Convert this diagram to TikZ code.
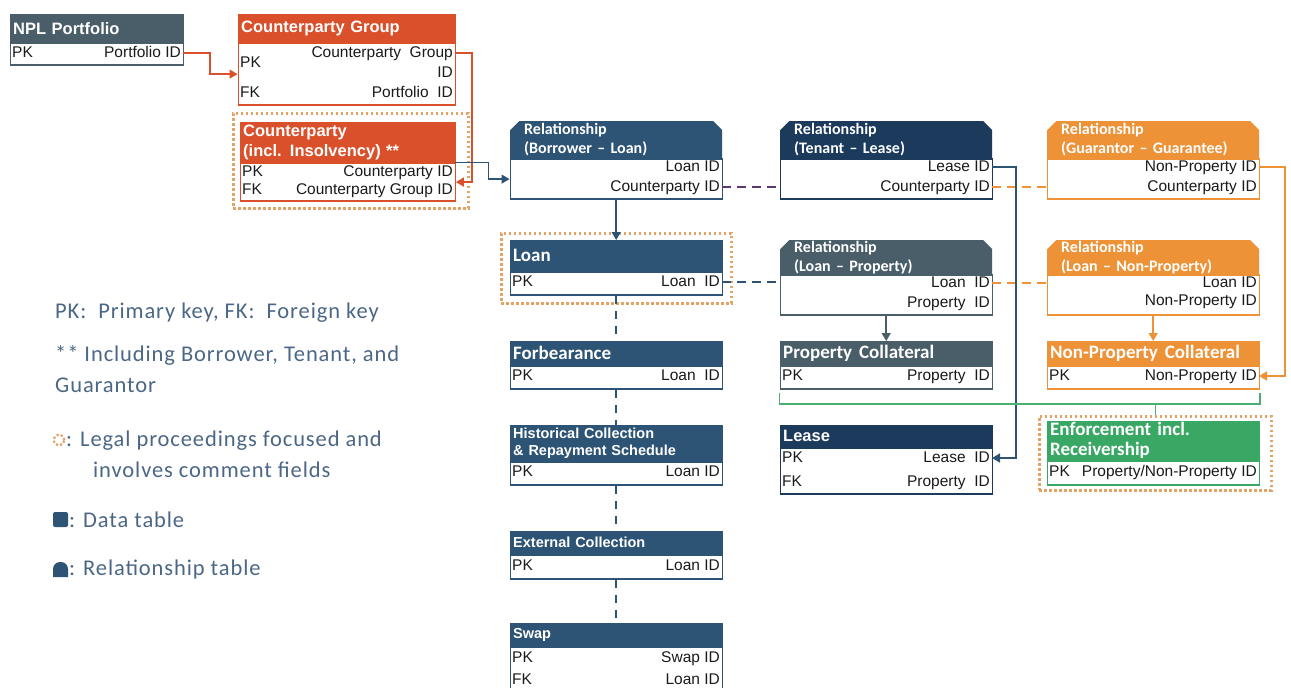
\documentclass[tikz,border=0pt]{standalone}
\usepackage{fontspec}
\setmainfont{Liberation Sans}
\newfontfamily\calib{Carlito}
\newfontfamily\calibwide[LetterSpace=4]{Carlito}
\usetikzlibrary{positioning,arrows.meta}

\definecolor{slate}{HTML}{4A5E6A}
\definecolor{cred}{HTML}{D9502B}
\definecolor{dblue}{HTML}{2D5475}
\definecolor{navy}{HTML}{1B3A5C}
\definecolor{corange}{HTML}{EE9238}
\definecolor{cgreen}{HTML}{3AA865}
\definecolor{lgreen}{HTML}{4CAF72}
\definecolor{dotorange}{HTML}{E3A266}
\definecolor{cpurple}{HTML}{5A3A6E}
\definecolor{legtext}{HTML}{4B6785}
\definecolor{rowtext}{HTML}{1A1A1A}

\newcommand\rowtxt{\fontsize{15.5}{17}\selectfont}
\newcommand\hdA{\fontsize{16.5}{20}\selectfont\bfseries}
\newcommand\hdS{\fontsize{14.5}{17}\selectfont\bfseries}
\newcommand\hdB{\calib\fontsize{19}{20}\selectfont\bfseries}
\newcommand\hdR{\calib\fontsize{16}{19}\selectfont\bfseries}

\begin{document}
\begin{tikzpicture}[x=1pt,y=-1pt,>={Triangle[length=8pt,width=9pt]},
  datahead/.style={anchor=north west,draw=#1,fill=#1,text=white,inner xsep=3pt,inner ysep=0pt,text width=206pt,align=left,font=\hdA},
  relhead/.style={anchor=north west,text=white,inner xsep=14pt,inner ysep=0pt,text width=184pt,align=left,font=\hdR,
    path picture={\fill[#1] (path picture bounding box.south west) -- ([yshift=-9pt]path picture bounding box.north west) -- ([xshift=9pt]path picture bounding box.north west) -- ([xshift=-9pt]path picture bounding box.north east) -- ([yshift=-9pt]path picture bounding box.north east) -- (path picture bounding box.south east) -- cycle;}},
  databody/.style={draw=#1,fill=white,line width=1.4pt,minimum width=212pt,inner sep=0pt},
  keytxt/.style={anchor=west,inner xsep=2pt,inner ysep=0pt,text height=11pt,text depth=3pt,font=\rowtxt,text=rowtext},
  fieldtxt/.style={anchor=east,inner xsep=2pt,inner ysep=0pt,text height=11pt,text depth=3pt,font=\rowtxt,text=rowtext},
  dotframe/.style={anchor=north west,draw=dotorange,line width=2.5pt,dash pattern=on 2.5pt off 2.5pt,inner sep=0pt},
  conn/.style={draw=#1,line width=1.5pt},
  legendtxt/.style={anchor=west,inner sep=0pt,font=\calibwide\fontsize{22.5}{26}\selectfont,text=legtext}]
\useasboundingbox (0,0) rectangle (1291,688);

% frames for legal proceedings
\node[dotframe,minimum width=235pt,minimum height=95pt] (cptyframe) at (232,112) {};
\node[dotframe,minimum width=230pt,minimum height=70pt] (loanframe) at (500,232) {};
\node[dotframe,minimum width=232pt,minimum height=74pt] (enfframe) at (1038,415) {};

% NPL Portfolio
\node[datahead=slate,text width=167pt,minimum height=28pt] (nplhead) at (10,14) {NPL Portfolio};
\node[databody=slate,minimum width=173pt,minimum height=22pt,below=0pt of nplhead] (nplbody) {};
\node[keytxt] (nplpk) at (10,53) {PK};
\node[fieldtxt] (nplpid) at (183,53) {Portfolio ID};

% Counterparty Group
\node[datahead=cred,text width=211pt,minimum height=28pt] (cpghead) at (238,14) {Counterparty Group};
\node[databody=cred,minimum width=217pt,minimum height=62pt,below=0pt of cpghead] (cpgbody) {};
\node[keytxt] (cpgpk) at (238,63) {PK};
\node[fieldtxt] (cpggid) at (455,53) {Counterparty~~Group};
\node[fieldtxt] (cpgidl) at (455,73) {ID};
\node[keytxt] (cpgfk) at (238,93) {FK};
\node[fieldtxt] (cpgpid) at (455,93) {Portfolio~~ID};

% Counterparty
\node[datahead=cred,text width=209pt,minimum height=40pt] (cptyhead) at (240,122) {Counterparty\\(incl. Insolvency) **};
\node[databody=cred,minimum width=215pt,minimum height=38pt,below=0pt of cptyhead] (cptybody) {};
\node[keytxt] (cptypk) at (240,172) {PK};
\node[fieldtxt] (cptycid) at (455,172) {Counterparty ID};
\node[keytxt] (cptyfk) at (240,190) {FK};
\node[fieldtxt] (cptygid) at (455,190) {Counterparty Group ID};

% relationship tables, first row
\node[relhead=dblue,minimum height=37pt] (relblhead) at (510,121) {Relationship\\(Borrower – Loan)};
\node[databody=dblue,minimum height=40pt,below=0pt of relblhead] (relblbody) {};
\node[fieldtxt] (relbllid) at (722,167) {Loan ID};
\node[fieldtxt] (relblcid) at (722,187) {Counterparty ID};

\node[relhead=navy,minimum height=37pt] (reltlhead) at (780,121) {Relationship\\(Tenant – Lease)};
\node[databody=navy,minimum height=40pt,below=0pt of reltlhead] (reltlbody) {};
\node[fieldtxt] (reltllid) at (992,167) {Lease ID};
\node[fieldtxt] (reltlcid) at (992,187) {Counterparty ID};

\node[relhead=corange,minimum height=37pt] (relgghead) at (1047,121) {Relationship\\(Guarantor – Guarantee)};
\node[databody=corange,minimum height=40pt,below=0pt of relgghead] (relggbody) {};
\node[fieldtxt] (relggnpid) at (1259,167) {Non-Property ID};
\node[fieldtxt] (relggcid) at (1259,187) {Counterparty ID};

% Loan and relationship tables, second row
\node[datahead=dblue,font=\hdB,minimum height=31pt] (loanhead) at (510,240) {Loan};
\node[databody=dblue,minimum height=23pt,below=0pt of loanhead] (loanbody) {};
\node[keytxt] (loanpk) at (510,282) {PK};
\node[fieldtxt] (loanid) at (722,282) {Loan~~ID};

\node[relhead=slate,minimum height=34pt] (rellphead) at (780,240) {Relationship\\(Loan – Property)};
\node[databody=slate,minimum height=40pt,below=0pt of rellphead] (rellpbody) {};
\node[fieldtxt] (rellplid) at (992,283) {Loan~~ID};
\node[fieldtxt] (rellppid) at (992,303) {Property~~ID};

\node[relhead=corange,minimum height=34pt] (rellnphead) at (1047,240) {Relationship\\(Loan – Non-Property)};
\node[databody=corange,minimum height=40pt,below=0pt of rellnphead] (rellnpbody) {};
\node[fieldtxt] (rellnplid) at (1259,283) {Loan ID};
\node[fieldtxt] (rellnpnid) at (1259,301) {Non-Property ID};

% third row
\node[datahead=dblue,font=\hdB,minimum height=24pt] (forbhead) at (510,341) {Forbearance};
\node[databody=dblue,minimum height=23pt,below=0pt of forbhead] (forbbody) {};
\node[keytxt] (forbpk) at (510,376) {PK};
\node[fieldtxt] (forbid) at (722,376) {Loan~~ID};

\node[datahead=slate,font=\hdB,minimum height=24pt] (propchead) at (780,341) {Property\hspace{7pt}Collateral};
\node[databody=slate,minimum height=23pt,below=0pt of propchead] (propcbody) {};
\node[keytxt] (propcpk) at (780,376) {PK};
\node[fieldtxt] (propcid) at (992,376) {Property~~ID};

\node[datahead=corange,font=\hdB,minimum height=24pt] (nonpchead) at (1047,341) {Non-Property\hspace{7pt}Collateral};
\node[databody=corange,minimum height=23pt,below=0pt of nonpchead] (nonpcbody) {};
\node[keytxt] (nonpcpk) at (1047,376) {PK};
\node[fieldtxt] (nonpcid) at (1259,376) {Non-Property ID};

% fourth row
\node[datahead=dblue,font=\hdS,minimum height=36pt] (histhead) at (510,425) {Historical Collection\\\& Repayment Schedule};
\node[databody=dblue,minimum height=23pt,below=0pt of histhead] (histbody) {};
\node[keytxt] (histpk) at (510,472) {PK};
\node[fieldtxt] (histid) at (722,472) {Loan ID};

\node[datahead=navy,minimum height=22pt] (leasehead) at (780,425) {Lease};
\node[databody=navy,minimum height=46pt,below=0pt of leasehead] (leasebody) {};
\node[keytxt] (leasepk) at (780,458) {PK};
\node[fieldtxt] (leaselid) at (992,458) {Lease~~ID};
\node[keytxt] (leasefk) at (780,482) {FK};
\node[fieldtxt] (leasepid) at (992,482) {Property~~ID};

\node[datahead=cgreen,font=\hdB,minimum height=39pt] (enfhead) at (1047,421) {Enforcement incl.\\Receivership};
\node[databody=cgreen,minimum height=24pt,below=0pt of enfhead] (enfbody) {};
\node[keytxt] (enfpk) at (1047,472) {PK};
\node[fieldtxt] (enfid) at (1259,472) {Property/Non-Property ID};

% lower loan tables
\node[datahead=dblue,font=\hdS,minimum height=23pt] (extchead) at (510,531) {External Collection};
\node[databody=dblue,minimum height=24pt,below=0pt of extchead] (extcbody) {};
\node[keytxt] (extcpk) at (510,566) {PK};
\node[fieldtxt] (extcid) at (722,566) {Loan ID};

\node[datahead=dblue,font=\hdS,minimum height=23pt] (swaphead) at (510,623) {Swap};
\node[databody=dblue,minimum height=46pt,below=0pt of swaphead] (swapbody) {};
\node[keytxt] (swappk) at (510,658) {PK};
\node[fieldtxt] (swapid) at (722,658) {Swap ID};
\node[keytxt] (swapfk) at (510,680) {FK};
\node[fieldtxt] (swaplid) at (722,680) {Loan ID};

% connectors
\draw[conn=cred,->] (nplpid.east) -- ++(27,0) |- (cpgbody.west);
\draw[conn=cred,->] (cpggid.east) -- ++(17,0) |- (cptybody.east);
\draw[conn=dblue,->] (cptyhead.south east) -- ++(33,0) |- (relblbody.west);
\draw[conn=dblue,->] (relblbody.south) -- (loanhead.north);
\draw[conn=cpurple,dash pattern=on 9pt off 6pt] (relblcid.east) -- (relblcid.east -| reltlbody.west);
\draw[conn=corange,dash pattern=on 9pt off 6pt] (reltlcid.east) -- (reltlcid.east -| relggbody.west);
\draw[conn=dblue,dash pattern=on 9pt off 6pt] (loanid.east) -- (loanid.east -| rellpbody.west);
\draw[conn=corange,dash pattern=on 9pt off 6pt] (rellplid.east) -- (rellplid.east -| rellnpbody.west);
\draw[conn=slate,->] (rellpbody.south) -- (propchead.north);
\draw[conn=corange,->] (rellnpbody.south) -- (nonpchead.north);
\draw[conn=corange,->] (relggnpid.east) -- ++(26,0) |- (nonpcid.east);
\draw[conn=dblue,->] (reltllid.east) -- ++(24,0) |- (leaselid.east);
\draw[conn=lgreen] (propcbody.south west) ++(0,3) -- ++(0,11) coordinate (brk) -| ([yshift=-3pt]nonpcbody.south east);
\draw[conn=lgreen] (brk -| enfframe.north) -- (enfframe.north);
\draw[conn=dblue,dash pattern=on 8pt off 7pt] (loanbody.south) -- (forbhead.north);
\draw[conn=dblue,dash pattern=on 8pt off 7pt] (forbbody.south) -- (histhead.north);
\draw[conn=dblue,dash pattern=on 8pt off 7pt] (histbody.south) -- (extchead.north);
\draw[conn=dblue,dash pattern=on 8pt off 7pt] (extcbody.south) -- (swaphead.north);

% legend
\node[legendtxt] (legpk) at (55,313) {PK:~~Primary key, FK:~~Foreign key};
\node[legendtxt] (legincl) at (55,355) {** Including Borrower, Tenant, and};
\node[legendtxt] (leggua) at (55,385) {Guarantor};
\draw[dotorange,line width=2.2pt,dash pattern=on 2.2pt off 2.2pt] (59,440) circle[radius=5.5pt];
\node[legendtxt] (leglegal) at (66,441) {: Legal proceedings focused and};
\node[legendtxt] (leginv) at (93,470) {involves comment fields};
\fill[dblue,rounded corners=2pt] (53,512) rectangle (68,527);
\node[legendtxt] (legdata) at (69,520) {: Data table};
\fill[dblue] (53,577) [rounded corners=7pt] -- (53,562) -- (68,562) [sharp corners] -- (68,577) -- cycle;
\node[legendtxt] (legrel) at (69,569) {: Relationship table};
\end{tikzpicture}
\end{document}
